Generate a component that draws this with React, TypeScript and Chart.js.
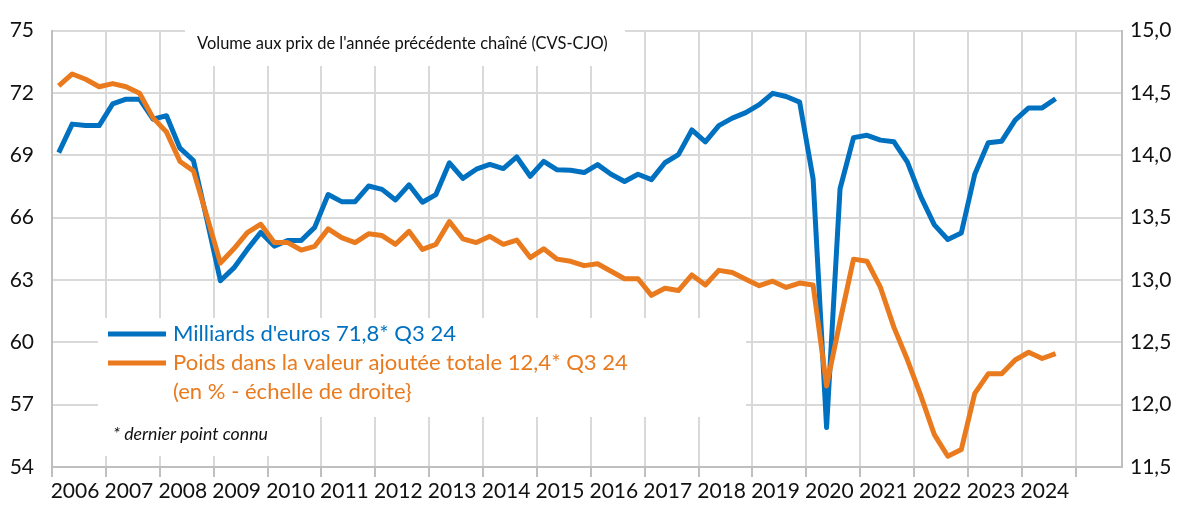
import React, { useEffect, useRef } from 'react';
import { Chart, registerables } from 'chart.js';

Chart.register(...registerables);

// Year labels shown on the x axis (one per year, quarterly data underneath)
const yearLabels = [
  '2006', '2007', '2008', '2009', '2010', '2011', '2012', '2013', '2014', '2015',
  '2016', '2017', '2018', '2019', '2020', '2021', '2022', '2023', '2024',
];

// Quarterly categories 2006T1 .. 2024T3
const quarters: string[] = [];
yearLabels.forEach((y) => {
  ['T1', 'T2', 'T3', 'T4'].forEach((q) => quarters.push(y + q));
});
quarters.length = 75;

// Value added, billions of euros (left axis)
const milliards = [
  69.13, 70.5, 70.43, 70.43, 71.47, 71.7, 71.7, 70.74,
  70.9, 69.34, 68.75, 65.9, 62.96, 63.58, 64.47, 65.29,
  64.63, 64.9, 64.9, 65.53, 67.11, 66.77, 66.77, 67.52,
  67.36, 66.85, 67.58, 66.74, 67.11, 68.64, 67.89, 68.33,
  68.56, 68.36, 68.92, 67.99, 68.71, 68.3, 68.28, 68.17,
  68.55, 68.09, 67.74, 68.09, 67.83, 68.64, 69.03, 70.22,
  69.65, 70.43, 70.79, 71.05, 71.44, 71.98, 71.83, 71.56,
  67.86, 55.9, 67.39, 69.85, 69.96, 69.73, 69.65, 68.67,
  67.0, 65.65, 64.95, 65.26, 68.09, 69.6, 69.68, 70.69,
  71.28, 71.28, 71.72,
];

// Share in total value added, % (right axis)
const poids = [
  14.557, 14.652, 14.61, 14.55, 14.575, 14.55, 14.497, 14.3,
  14.186, 13.95, 13.875, 13.51, 13.136, 13.25, 13.38, 13.447,
  13.3, 13.3, 13.24, 13.27, 13.41, 13.34, 13.3, 13.37,
  13.356, 13.286, 13.39, 13.245, 13.286, 13.468, 13.33, 13.3,
  13.35, 13.286, 13.32, 13.18, 13.25, 13.167, 13.15, 13.115,
  13.13, 13.07, 13.01, 13.01, 12.877, 12.934, 12.915, 13.04,
  12.96, 13.077, 13.06, 13.006, 12.954, 12.99, 12.94, 12.975,
  12.96, 12.15, 12.67, 13.167, 13.15, 12.94, 12.62, 12.36,
  12.07, 11.76, 11.586, 11.64, 12.09, 12.247, 12.247, 12.358,
  12.42, 12.37, 12.41,
];

const leftTicks = { min: 54, max: 75, step: 3 };
const rightTicks = { min: 11.5, max: 15, step: 0.5 };

const titleText = "Volume aux prix de l'année précédente chaîné (CVS-CJO)";
const legendBlue = "Milliards d'euros 71,8* Q3 24";
const legendOrange1 = 'Poids dans la valeur ajoutée totale 12,4* Q3 24';
const legendOrange2 = '(en % - échelle de droite}';
const footnote = '* dernier point connu';

const BLUE = '#0070C0';
const ORANGE = '#E97A1E';
const GRID = '#D9D9D9';
const AXIS = '#BFBFBF';
const TEXT = '#111111';
const FONT = 'Lato';

function fitFont(ctx: CanvasRenderingContext2D, text: string, width: number, style: string) {
  ctx.font = `${style} 20px ${FONT}`;
  const w = ctx.measureText(text).width;
  const size = (20 * width) / w;
  return `${style} ${size.toFixed(2)}px ${FONT}`;
}

const overlayPlugin = {
  id: 'overlay',
  beforeDatasetsDraw(chart: any) {
    const ctx = chart.ctx as CanvasRenderingContext2D;
    ctx.save();
    // white text boxes hiding the grid
    ctx.fillStyle = '#ffffff';
    ctx.fillRect(185, 19, 440, 47);
    ctx.fillRect(98, 318, 648, 99);
    ctx.fillRect(98, 417, 192, 39);

    ctx.textBaseline = 'middle';
    ctx.textAlign = 'left';
    ctx.fillStyle = TEXT;
    ctx.font = fitFont(ctx, titleText, 411, 'normal');
    ctx.fillText(titleText, 197, 44);

    // legend samples
    ctx.lineWidth = 5;
    ctx.lineCap = 'butt';
    ctx.strokeStyle = BLUE;
    ctx.beginPath();
    ctx.moveTo(108, 334);
    ctx.lineTo(166, 334);
    ctx.stroke();
    ctx.strokeStyle = ORANGE;
    ctx.beginPath();
    ctx.moveTo(108, 363);
    ctx.lineTo(166, 363);
    ctx.stroke();

    ctx.font = fitFont(ctx, legendOrange1, 455, 'normal');
    ctx.fillStyle = BLUE;
    ctx.fillText(legendBlue, 173, 334);
    ctx.fillStyle = ORANGE;
    ctx.fillText(legendOrange1, 173, 363);
    ctx.fillText(legendOrange2, 173, 392);

    ctx.fillStyle = TEXT;
    ctx.font = fitFont(ctx, footnote, 155, 'italic');
    ctx.fillText(footnote, 113, 434);
    ctx.restore();
  },
};

export default function App() {
  const canvasRef = useRef<HTMLCanvasElement | null>(null);

  useEffect(() => {
    if (!canvasRef.current) return;
    Chart.defaults.font.family = FONT;
    const boundaries = yearLabels.map((_, i) => i * 4 - 0.5).concat([yearLabels.length * 4 - 0.5]);

    const chart = new Chart(canvasRef.current, {
      type: 'line',
      data: {
        labels: quarters,
        datasets: [
          {
            label: legendBlue,
            data: milliards.map((v, i) => ({ x: i, y: v })),
            borderColor: BLUE,
            backgroundColor: BLUE,
            borderWidth: 5,
            pointRadius: 0,
            tension: 0,
            borderJoinStyle: 'round',
            yAxisID: 'y',
            order: 1,
          },
          {
            label: legendOrange1,
            data: poids.map((v, i) => ({ x: i, y: v })),
            borderColor: ORANGE,
            backgroundColor: ORANGE,
            borderWidth: 5,
            pointRadius: 0,
            tension: 0,
            borderJoinStyle: 'round',
            yAxisID: 'y1',
            order: 0,
          },
        ],
      },
      options: {
        responsive: false,
        animation: false,
        devicePixelRatio: 1,
        layout: { padding: { top: 17, left: 0, right: 0, bottom: 0 } },
        plugins: {
          legend: { display: false },
          tooltip: { enabled: false },
          title: { display: false },
        },
        scales: {
          x: {
            type: 'linear',
            min: -0.5,
            max: 78.93,
            afterBuildTicks: (axis: any) => {
              axis.ticks = boundaries.map((v) => ({ value: v }));
            },
            afterFit: (s: any) => {
              s.height = 42;
            },
            grid: {
              color: GRID,
              lineWidth: 2,
              drawTicks: true,
              tickLength: 10,
              tickColor: AXIS,
              tickWidth: 2,
            },
            border: { display: true, color: AXIS, width: 2 },
            ticks: {
              autoSkip: false,
              maxRotation: 0,
              labelOffset: 23,
              padding: 2,
              color: TEXT,
              font: { size: 21, family: FONT },
              callback: (_v: any, i: number) => yearLabels[i] ?? '',
            },
          },
          y: {
            type: 'linear',
            position: 'left',
            min: leftTicks.min,
            max: leftTicks.max,
            afterFit: (s: any) => {
              s.width = 52;
            },
            grid: { color: GRID, lineWidth: 2, drawTicks: false },
            border: { display: true, color: AXIS, width: 2 },
            ticks: {
              stepSize: leftTicks.step,
              padding: 18,
              color: TEXT,
              font: { size: 21, family: FONT },
            },
          },
          y1: {
            type: 'linear',
            position: 'right',
            min: rightTicks.min,
            max: rightTicks.max,
            afterFit: (s: any) => {
              s.width = 66;
            },
            grid: { drawOnChartArea: false, drawTicks: false },
            border: { display: true, color: AXIS, width: 2 },
            ticks: {
              stepSize: rightTicks.step,
              padding: 8,
              color: TEXT,
              font: { size: 21, family: FONT },
              callback: (v: any) => Number(v).toFixed(1).replace('.', ','),
            },
          },
        },
      },
      plugins: [overlayPlugin],
    } as any);

    return () => chart.destroy();
  }, []);

  return (
    <div style={{ position: 'absolute', left: 0, top: 0, width: 1188, height: 509, background: '#fff' }}>
      <canvas ref={canvasRef} width={1188} height={509} />
    </div>
  );
}
